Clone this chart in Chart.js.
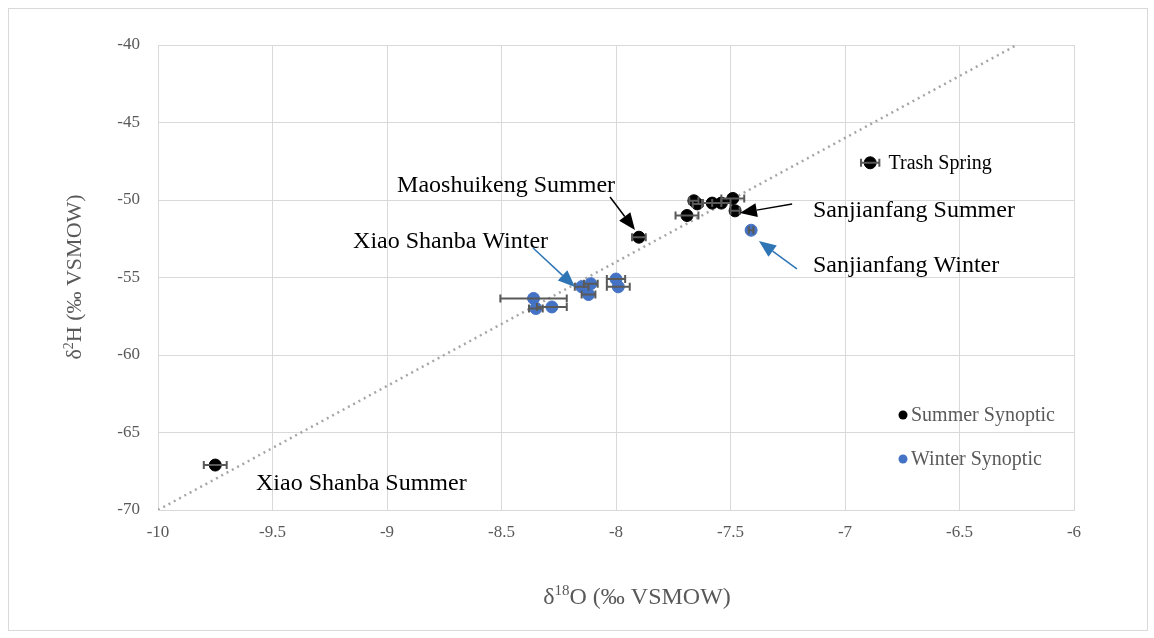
<!DOCTYPE html>
<html lang="en">
<head>
<meta charset="UTF-8">
<title>Isotopes</title>
<script src="https://cdn.jsdelivr.net/npm/chart.js"></script>
<style>
  body { margin: 0; background: #fff; }
  #wrap { width: 1154px; height: 638px; position: relative; }
</style>
</head>
<body>
<div id="wrap"><canvas id="grafico"></canvas></div>
<script>
// summer synoptic samples: d18O, d2H, d18O error
const summerX = [-9.75, -6.89, -7.90, -7.69, -7.66, -7.645, -7.58, -7.54, -7.49, -7.48];
const summerY = [-67.1, -47.6, -52.4, -51.0, -50.05, -50.25, -50.2, -50.2, -49.9, -50.7];
const summerErr = [0.05, 0.04, 0.03, 0.05, 0.02, 0.02, 0.04, 0.04, 0.05, 0.02];

// winter synoptic samples
const winterX = [-8.36, -8.35, -8.28, -8.15, -8.11, -8.12, -8.00, -7.99, -7.41];
const winterY = [-56.35, -57.0, -56.9, -55.6, -55.4, -56.1, -55.1, -55.6, -51.95];
const winterErr = [0.145, 0.03, 0.065, 0.03, 0.03, 0.03, 0.04, 0.05, 0.01];

// meteoric water line end points
const lineX = [-10, -6.25];
const lineY = [-70, -40];

const seriesNames = ['Summer Synoptic', 'Winter Synoptic'];

// axis titles: [before superscript, superscript, after]
const xTitle = ['δ', '18', 'O (‰ VSMOW)'];
const yTitle = ['δ', '2', 'H (‰ VSMOW)'];

// labels: text, baseline position, arrow from (x,y) to (x,y) or null
const notes = [
  { text: 'Trash Spring', x: -6.81, y: -48.0, size: 20, arrow: null, color: '#000' },
  { text: 'Maoshuikeng Summer', x: -8.956, y: -49.48, size: 24, arrow: [-8.026, -49.81, -7.917, -51.94], color: '#000' },
  { text: 'Sanjianfang Summer', x: -7.14, y: -51.1, size: 24, arrow: [-7.231, -50.26, -7.459, -50.84], color: '#000' },
  { text: 'Xiao Shanba Winter', x: -9.148, y: -53.1, size: 24, arrow: [-8.362, -53.1, -8.179, -55.61], color: '#2e75b6' },
  { text: 'Sanjianfang Winter', x: -7.14, y: -54.65, size: 24, arrow: [-7.21, -54.45, -7.376, -52.65], color: '#2e75b6' },
  { text: 'Xiao Shanba Summer', x: -9.572, y: -68.71, size: 24, arrow: null, color: '#000' }
];

const serif = '"Liberation Serif", "Times New Roman", serif';
const toPts = (xs, ys) => xs.map((x, i) => ({ x: x, y: ys[i] }));

// text with a raised part, centred on (cx, cy)
function supText(c, parts, cx, cy, size) {
  const big = size + 'px ' + serif, small = Math.round(size * 0.62) + 'px ' + serif;
  c.font = big; const w1 = c.measureText(parts[0]).width, w3 = c.measureText(parts[2]).width;
  c.font = small; const w2 = c.measureText(parts[1]).width;
  let x = cx - (w1 + w2 + w3) / 2;
  const base = cy + size * 0.32;
  c.textBaseline = 'alphabetic';
  c.font = big; c.fillText(parts[0], x, base); x += w1;
  c.font = small; c.fillText(parts[1], x, base - size * 0.38); x += w2;
  c.font = big; c.fillText(parts[2], x, base);
}

const extras = {
  id: 'extras',
  beforeDraw(chart) {
    const c = chart.ctx;
    c.save();
    c.fillStyle = '#fff';
    c.fillRect(0, 0, chart.width, chart.height);
    c.strokeStyle = '#d9d9d9';
    c.lineWidth = 1;
    c.strokeRect(8.5, 8.5, 1139, 622);
    c.restore();
  },
  afterDatasetsDraw(chart) {
    const c = chart.ctx;
    const xs = chart.scales.x, ys = chart.scales.y;
    c.save();
    // error bars
    c.strokeStyle = '#595959';
    c.lineWidth = 2;
    const bars = (X, Y, E) => {
      X.forEach((v, i) => {
        const a = xs.getPixelForValue(v - E[i]);
        const b = xs.getPixelForValue(v + E[i]);
        const py = ys.getPixelForValue(Y[i]);
        c.beginPath();
        c.moveTo(a, py); c.lineTo(b, py);
        c.moveTo(a, py - 4); c.lineTo(a, py + 4);
        c.moveTo(b, py - 4); c.lineTo(b, py + 4);
        c.stroke();
      });
    };
    bars(summerX, summerY, summerErr);
    bars(winterX, winterY, winterErr);
    c.restore();
  },
  afterDraw(chart) {
    const c = chart.ctx;
    const xs = chart.scales.x, ys = chart.scales.y;
    c.save();
    // axis titles
    c.fillStyle = '#595959';
    supText(c, xTitle, 637, 596, 24);
    c.save();
    c.translate(74, 277);
    c.rotate(-Math.PI / 2);
    supText(c, yTitle, 0, 0, 22);
    c.restore();

    c.textBaseline = 'alphabetic';
    notes.forEach(n => {
      c.font = n.size + 'px ' + serif;
      c.fillStyle = '#000';
      c.fillText(n.text, xs.getPixelForValue(n.x), ys.getPixelForValue(n.y));
      if (n.arrow) {
        const x1 = xs.getPixelForValue(n.arrow[0]), y1 = ys.getPixelForValue(n.arrow[1]);
        const x2 = xs.getPixelForValue(n.arrow[2]), y2 = ys.getPixelForValue(n.arrow[3]);
        const ang = Math.atan2(y2 - y1, x2 - x1);
        const L = 17, W = 7;
        c.strokeStyle = n.color; c.fillStyle = n.color; c.lineWidth = 1.5;
        c.beginPath();
        c.moveTo(x1, y1);
        c.lineTo(x2 - L * Math.cos(ang), y2 - L * Math.sin(ang));
        c.stroke();
        c.beginPath();
        c.moveTo(x2, y2);
        c.lineTo(x2 - L * Math.cos(ang) - W * Math.sin(ang), y2 - L * Math.sin(ang) + W * Math.cos(ang));
        c.lineTo(x2 - L * Math.cos(ang) + W * Math.sin(ang), y2 - L * Math.sin(ang) - W * Math.cos(ang));
        c.closePath();
        c.fill();
      }
    });
    // legend inside the plot
    const cols = ['#000000', '#4472c4'];
    c.font = '20px ' + serif;
    c.textBaseline = 'middle';
    seriesNames.forEach((s, i) => {
      const ly = 415 + i * 44;
      c.fillStyle = cols[i];
      c.beginPath();
      c.arc(903, ly, 4.5, 0, Math.PI * 2);
      c.fill();
      c.fillStyle = '#595959';
      c.fillText(s, 911, ly + 1);
    });
    c.restore();
  }
};

new Chart(document.getElementById('grafico'), {
  type: 'scatter',
  data: {
    datasets: [
      {
        label: seriesNames[0],
        data: toPts(summerX, summerY),
        backgroundColor: '#000000',
        borderColor: '#000000',
        pointRadius: 6,
        order: 1
      },
      {
        label: seriesNames[1],
        data: toPts(winterX, winterY),
        backgroundColor: '#4472c4',
        borderColor: '#4472c4',
        pointRadius: 6,
        order: 1
      },
      {
        label: 'GMWL',
        type: 'line',
        data: toPts(lineX, lineY),
        borderColor: '#a6a6a6',
        borderWidth: 2.5,
        borderDash: [2, 4],
        pointRadius: 0,
        fill: false,
        order: 2
      }
    ]
  },
  options: {
    responsive: true,
    maintainAspectRatio: false,
    animation: false,
    layout: { padding: { left: 48, right: 80, top: 45, bottom: 28 } },
    plugins: {
      legend: { display: false },
      tooltip: { enabled: false }
    },
    scales: {
      x: {
        type: 'linear',
        min: -10, max: -6,
        afterFit: s => { s.height = 100; },
        ticks: {
          stepSize: 0.5,
          padding: 12,
          color: '#595959',
          callback: v => String(v),
          font: { family: serif, size: 17 }
        },
        grid: { color: '#d9d9d9', drawTicks: false },
        border: { color: '#d9d9d9' }
      },
      y: {
        min: -70, max: -40,
        afterFit: s => { s.width = 110; },
        ticks: {
          stepSize: 5,
          padding: 18,
          color: '#595959',
          callback: v => String(v),
          font: { family: serif, size: 17 }
        },
        grid: { color: '#d9d9d9', drawTicks: false },
        border: { color: '#d9d9d9' }
      }
    }
  },
  plugins: [extras]
});
</script>
</body>
</html>
